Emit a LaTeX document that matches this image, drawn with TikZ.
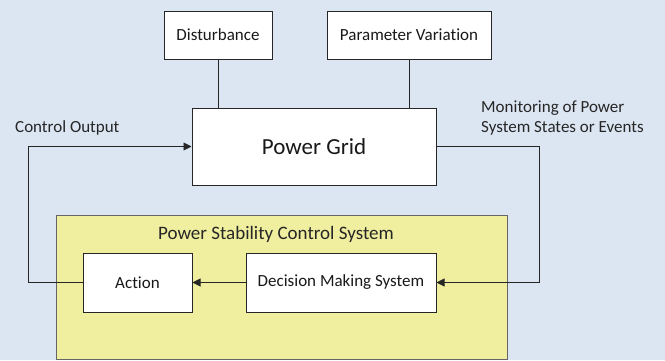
\documentclass[tikz,border=0pt]{standalone}
\usepackage{fontspec}
\setmainfont{Carlito}[Ligatures=NoCommon]
\usetikzlibrary{arrows.meta,positioning}
\definecolor{bgblue}{HTML}{DCE6F2}
\definecolor{pscyellow}{HTML}{F0EFA0}
\tikzset{
  blk/.style={draw=black!85,fill=white,line width=1pt,align=center,inner sep=0pt,
    text=black!90,font=\fontsize{17}{20}\selectfont},
  lbl/.style={text=black!85,font=\fontsize{17}{20}\selectfont,inner sep=0pt},
  link/.style={line width=0.9pt,draw=black!85},
  arr/.style={link,-{Triangle[length=8pt,width=8pt]}},
}
\begin{document}
\begin{tikzpicture}[x=1pt,y=1pt]
  \fill[bgblue] (0,0) rectangle (665,360);
  \useasboundingbox (0,0) rectangle (665,360);
  % outer control system
  \node[draw=black!60,fill=pscyellow,line width=0.8pt,minimum width=451pt,minimum height=144pt] (psc) at (281.5,73) {};
  \node[lbl,font=\fontsize{19}{22}\selectfont] (psctitle) at (276,126) {Power Stability Control System};
  % blocks
  \node[blk,minimum width=108pt,minimum height=48pt] (dist) at (218,325) {Disturbance};
  \node[blk,minimum width=164pt,minimum height=48pt] (param) at (409,325) {Parameter Variation};
  \node[blk,minimum width=244pt,minimum height=77pt,font=\fontsize{23}{27}\selectfont] (grid) at (314,213.5) {Power Grid};
  \node[blk,minimum width=109pt,minimum height=59pt] (action) at (137.5,77.5) {Action};
  \node[blk,minimum width=190pt,minimum height=59pt] (dms) at (341,77.5) {Decision Making System};
  \coordinate (cl) at (28.4,77.5);
  \coordinate (cr) at (539.5,77.5);
  % labels
  \node[lbl,anchor=west] (ctrl) at (15,232) {Control Output};
  \node[lbl,anchor=west,align=left] (mon) at (481,242) {Monitoring of Power\\System States or Events};
  % connectors
  \draw[link] (dist.south) -- (dist.south |- grid.north);
  \draw[link] (param.south) -- (param.south |- grid.north);
  \draw[arr] (grid.east) -| (cr) -- (dms.east);
  \draw[arr] (dms.west) -- (action.east);
  \draw[arr] (action.west) -- (cl) |- (grid.west);
\end{tikzpicture}
\end{document}
